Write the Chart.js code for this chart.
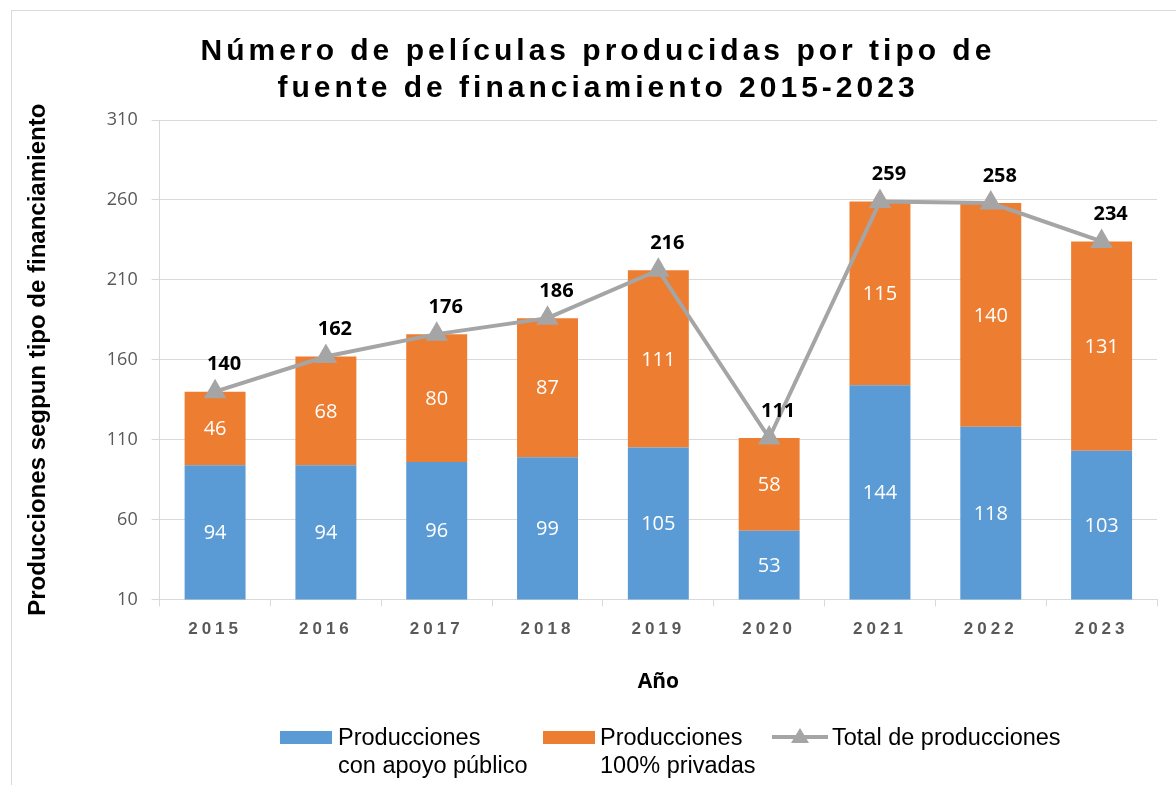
<!DOCTYPE html>
<html>
<head>
<meta charset="utf-8">
<script src="https://cdn.jsdelivr.net/npm/chart.js@4.4.1/dist/chart.umd.min.js"></script>
<style>
  body { margin: 0; width: 1176px; height: 785px; overflow: hidden; background: #fff; position: relative; }
  #frame { position: absolute; left: 11px; top: 10px; width: 1300px; height: 900px; border: 1px solid #d9d9d9; }
  #title { position: absolute; left: 10px; top: 31px; width: 1176px; text-align: center;
    font: bold 30px "Liberation Sans", Arial, sans-serif; line-height: 37px; letter-spacing: 4px; color: #000; }
  .leg { position: absolute; font: 23.5px "Liberation Sans", Arial, sans-serif; line-height: 28px; color: #000; }
  .sw { position: absolute; }
</style>
</head>
<body>
<div id="frame"></div>
<canvas id="chart" width="1176" height="785" style="position:absolute;left:0;top:0"></canvas>
<div id="title">Número de películas producidas por tipo de<br>fuente de financiamiento 2015-2023</div>
<div class="sw" style="left:280px;top:731px;width:52px;height:13px;background:#5b9bd5"></div>
<div class="leg" style="left:338px;top:723px">Producciones<br>con apoyo público</div>
<div class="sw" style="left:543px;top:731px;width:52px;height:13px;background:#ed7d31"></div>
<div class="leg" style="left:600px;top:723px">Producciones<br>100% privadas</div>
<svg class="sw" style="left:770px;top:724px" width="60" height="26">
  <line x1="2" y1="13" x2="58" y2="13" stroke="#a5a5a5" stroke-width="4"/>
  <polygon points="30,4 39,19 21,19" fill="#a5a5a5"/>
</svg>
<div class="leg" style="left:832px;top:723px">Total de producciones</div>
<script>
const years = ['2015', '2016', '2017', '2018', '2019', '2020', '2021', '2022', '2023'];
const apoyoPublico = [94, 94, 96, 99, 105, 53, 144, 118, 103];
const privadas = [46, 68, 80, 87, 111, 58, 115, 140, 131];
const totales = [140, 162, 176, 186, 216, 111, 259, 258, 234];
const yTicks = { min: 10, max: 310, step: 50 };

const valueLabels = {
  id: 'valueLabels',
  afterDatasetsDraw(chart) {
    const ctx = chart.ctx;
    const bottom = chart.chartArea.bottom;
    ctx.save();
    ctx.textAlign = 'center';
    ctx.textBaseline = 'middle';
    [0, 1].forEach(di => {
      const meta = chart.getDatasetMeta(di);
      ctx.fillStyle = '#ffffff';
      ctx.font = '20px "Open Sans"';
      meta.data.forEach((bar, i) => {
        const base = Math.min(bar.base, bottom);
        ctx.fillText(chart.data.datasets[di].data[i], bar.x, (bar.y + base) / 2 + 1);
      });
    });
    const line = chart.getDatasetMeta(2);
    ctx.fillStyle = '#000000';
    ctx.font = 'bold 20px "Open Sans"';
    line.data.forEach((pt, i) => {
      ctx.fillText(totales[i], pt.x + 9, pt.y - 27);
    });
    ctx.restore();
    // x tick labels are drawn after this (ticks z: 1), spaced out like the original
    ctx.letterSpacing = '4px';
  },
  afterDraw(chart) {
    chart.ctx.letterSpacing = '0px';
  }
};

new Chart(document.getElementById('chart'), {
  data: {
    labels: years,
    datasets: [
      { type: 'bar', label: 'Producciones con apoyo público', data: apoyoPublico,
        backgroundColor: '#5b9bd5', stack: 'bars', order: 2 },
      { type: 'bar', label: 'Producciones 100% privadas', data: privadas,
        backgroundColor: '#ed7d31', stack: 'bars', order: 2 },
      { type: 'line', label: 'Total de producciones', data: totales, stack: 'total',
        borderColor: '#a5a5a5', backgroundColor: '#a5a5a5', borderWidth: 4,
        pointStyle: 'triangle', pointRadius: 9, pointHoverRadius: 9, order: 1 }
    ]
  },
  options: {
    responsive: false,
    animation: false,
    layout: { padding: { top: 120, right: 19, bottom: 90, left: 12 } },
    datasets: { bar: { categoryPercentage: 1, barPercentage: 0.55 } },
    plugins: { legend: { display: false }, tooltip: { enabled: false } },
    scales: {
      x: {
        stacked: true,
        grid: { drawOnChartArea: false, drawTicks: true, tickLength: 7, color: '#d9d9d9', offset: true },
        border: { color: '#d9d9d9' },
        ticks: { z: 1, padding: 13, color: '#595959', font: { family: 'Liberation Sans', size: 17, weight: 'bold' } },
        title: { display: true, text: 'Año', color: '#000', padding: { top: 17, bottom: 0 },
          font: { family: 'Open Sans', size: 21, weight: 'bold' } }
      },
      y: {
        stacked: true,
        min: yTicks.min,
        max: yTicks.max,
        grid: { color: '#d9d9d9', tickLength: 8 },
        border: { color: '#d9d9d9' },
        ticks: { stepSize: yTicks.step, padding: 14, color: '#595959', font: { family: 'Open Sans', size: 18 } },
        title: { display: true, text: 'Producciones segpun tipo de financiamiento', color: '#000',
          padding: { top: 12, bottom: 40 },
          font: { family: 'Liberation Sans', size: 24, weight: 'bold' } }
      }
    }
  },
  plugins: [valueLabels]
});
</script>
</body>
</html>
